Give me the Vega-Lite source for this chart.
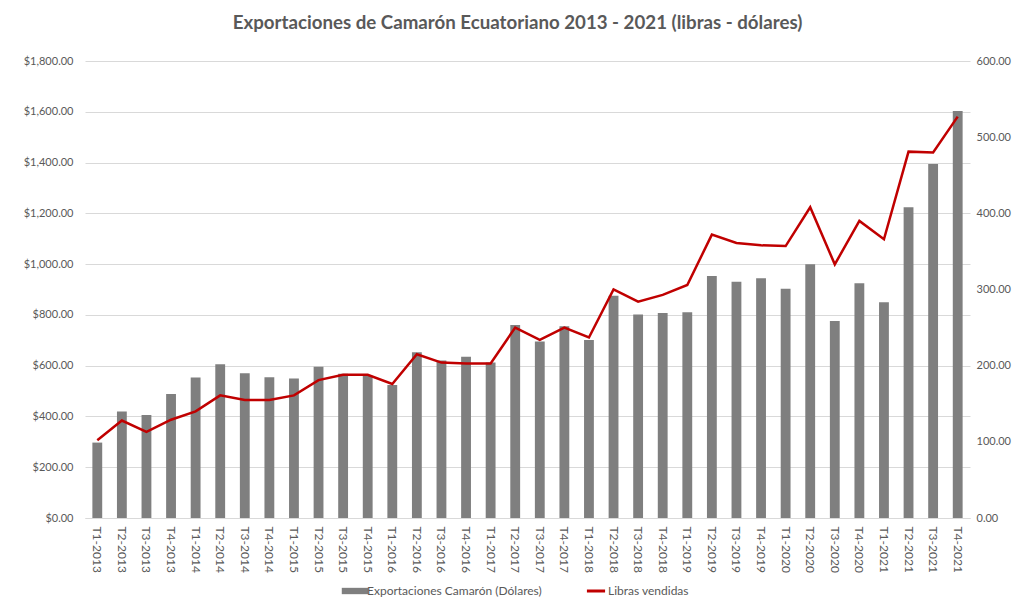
{
  "$schema": "https://vega.github.io/schema/vega-lite/v6.json",
  "width": 885,
  "height": 457,
  "autosize": {"type": "none"},
  "padding": {"left": 85, "top": 61, "right": 44, "bottom": 91},
  "background": "white",
  "title": {
    "text": "Exportaciones de Camarón Ecuatoriano 2013 - 2021 (libras - dólares)",
    "anchor": "middle",
    "fontSize": 18.7,
    "font": "Lato",
    "fontWeight": "bold",
    "color": "#595959",
    "offset": 22,
    "dx": -10
  },
  "config": {"view": {"stroke": null}, "font": "Lato"},
  "data": {
    "values": [
      {"t": "T1-2013", "dolares": 297, "libras": 102},
      {"t": "T2-2013", "dolares": 419, "libras": 128},
      {"t": "T3-2013", "dolares": 406, "libras": 113},
      {"t": "T4-2013", "dolares": 488, "libras": 129},
      {"t": "T1-2014", "dolares": 553, "libras": 140},
      {"t": "T2-2014", "dolares": 606, "libras": 161},
      {"t": "T3-2014", "dolares": 570, "libras": 155},
      {"t": "T4-2014", "dolares": 554, "libras": 155},
      {"t": "T1-2015", "dolares": 549, "libras": 161},
      {"t": "T2-2015", "dolares": 596, "libras": 181},
      {"t": "T3-2015", "dolares": 568, "libras": 188},
      {"t": "T4-2015", "dolares": 560, "libras": 188},
      {"t": "T1-2016", "dolares": 524, "libras": 176},
      {"t": "T2-2016", "dolares": 653, "libras": 215},
      {"t": "T3-2016", "dolares": 620, "libras": 204},
      {"t": "T4-2016", "dolares": 635, "libras": 203},
      {"t": "T1-2017", "dolares": 612, "libras": 203},
      {"t": "T2-2017", "dolares": 760, "libras": 250},
      {"t": "T3-2017", "dolares": 695, "libras": 234},
      {"t": "T4-2017", "dolares": 755, "libras": 250},
      {"t": "T1-2018", "dolares": 701, "libras": 237},
      {"t": "T2-2018", "dolares": 875, "libras": 300},
      {"t": "T3-2018", "dolares": 802, "libras": 284},
      {"t": "T4-2018", "dolares": 807, "libras": 293},
      {"t": "T1-2019", "dolares": 810, "libras": 306},
      {"t": "T2-2019", "dolares": 953, "libras": 372},
      {"t": "T3-2019", "dolares": 931, "libras": 361},
      {"t": "T4-2019", "dolares": 944, "libras": 358},
      {"t": "T1-2020", "dolares": 903, "libras": 357},
      {"t": "T2-2020", "dolares": 999, "libras": 408},
      {"t": "T3-2020", "dolares": 776, "libras": 333},
      {"t": "T4-2020", "dolares": 925, "libras": 390},
      {"t": "T1-2021", "dolares": 850, "libras": 366},
      {"t": "T2-2021", "dolares": 1224, "libras": 481},
      {"t": "T3-2021", "dolares": 1394, "libras": 480},
      {"t": "T4-2021", "dolares": 1603, "libras": 527}
    ]
  },
  "encoding": {
    "x": {
      "field": "t",
      "type": "nominal",
      "sort": null,
      "scale": {"paddingInner": 0.6, "paddingOuter": 0.3},
      "axis": {
        "title": null,
        "labelAngle": 90,
        "labelFontSize": 12,
        "labelColor": "#595959",
        "labelPadding": 8,
        "ticks": false,
        "domainColor": "#d9d9d9"
      }
    }
  },
  "layer": [
    {
      "mark": {"type": "bar", "color": "#7f7f7f"},
      "encoding": {
        "y": {
          "field": "dolares",
          "type": "quantitative",
          "scale": {"domain": [0, 1800]},
          "axis": {
            "title": null,
            "values": [0, 200, 400, 600, 800, 1000, 1200, 1400, 1600, 1800],
            "format": "$,.2f",
            "domain": false,
            "ticks": false,
            "grid": true,
            "gridColor": "#d9d9d9",
            "labelFontSize": 11,
            "labelColor": "#595959",
            "labelPadding": 12
          }
        },
        "color": {
          "datum": "Exportaciones Camarón (Dólares)",
          "scale": {
            "domain": ["Exportaciones Camarón (Dólares)", "Libras vendidas"],
            "range": ["#7f7f7f", "#c00000"]
          },
          "legend": {
            "orient": "none",
            "legendX": 264,
            "legendY": 524,
            "direction": "horizontal",
            "title": null,
            "labelFontSize": 12,
            "labelColor": "#595959",
            "labelLimit": 400,
            "labelOffset": 6,
            "columnPadding": 38,
            "symbolSize": 700,
            "encode": {
              "symbols": {
                "update": {
                  "shape": {"signal": "datum.value === 'Libras vendidas' ? 'stroke' : 'M-1,-0.24L1,-0.24L1,0.24L-1,0.24Z'"},
                  "size": {"signal": "datum.value === 'Libras vendidas' ? 330 : 700"},
                  "strokeWidth": {"signal": "datum.value === 'Libras vendidas' ? 3 : 0"}
                }
              }
            }
          }
        }
      }
    },
    {
      "mark": {"type": "line", "strokeWidth": 2.5},
      "encoding": {
        "y": {
          "field": "libras",
          "type": "quantitative",
          "scale": {"domain": [0, 600]},
          "axis": {
            "orient": "right",
            "title": null,
            "values": [0, 100, 200, 300, 400, 500, 600],
            "format": ".2f",
            "domain": false,
            "ticks": false,
            "grid": false,
            "labelFontSize": 11,
            "labelColor": "#595959",
            "labelPadding": 6
          }
        },
        "color": {"datum": "Libras vendidas"}
      }
    }
  ],
  "resolve": {"scale": {"y": "independent"}}
}
